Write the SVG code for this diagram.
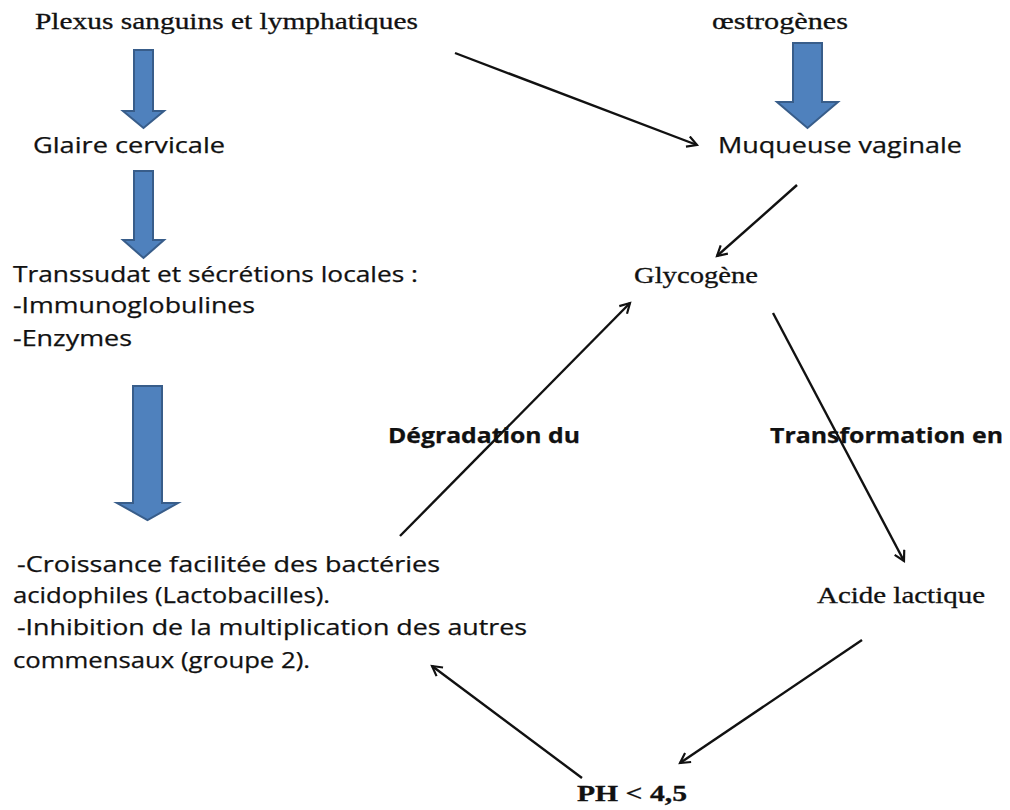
<svg xmlns="http://www.w3.org/2000/svg" width="1010" height="810" viewBox="0 0 1010 810">
<defs>
<style>
.serif{font-family:"Liberation Serif","Times New Roman",serif;font-size:24px;fill:#111;stroke:#111;stroke-width:0.3;}
.sans{font-family:"Open Sans","Liberation Sans",sans-serif;font-size:21px;fill:#111;stroke:#111;stroke-width:0.25;}
.bold{font-weight:bold;}
.block{fill:#4F81BD;stroke:#385D8A;stroke-width:2;}
.conn{stroke:#111;stroke-width:2.4;fill:none;marker-end:url(#open);}
</style>
<marker id="open" viewBox="0 0 12 12" refX="10" refY="6" markerWidth="13" markerHeight="13" markerUnits="userSpaceOnUse" orient="auto">
<path d="M1,1 L10,6 L1,11" fill="none" stroke="#111" stroke-width="2"/>
</marker>
</defs>
<rect width="1010" height="810" fill="#fff"/>

<g id="blocks">
<path class="block" d="M134,50 H153 V111 H164 L143.5,128 L123,111 H134 Z"/>
<path class="block" d="M134,171 H153 V240 H164 L143.5,258 L123,240 H134 Z"/>
<path class="block" d="M133,386 H162 V503 H178 L147.5,520 L117,503 H133 Z"/>
<path class="block" d="M793,43 H822 V102 H838 L807.5,128 L777,102 H793 Z"/>
</g>

<g id="connectors">
<line class="conn" x1="455" y1="53" x2="697" y2="145"/>
<line class="conn" x1="797" y1="185" x2="717" y2="256"/>
<line class="conn" x1="400" y1="536" x2="630" y2="303"/>
<line class="conn" x1="773" y1="313" x2="904" y2="561"/>
<line class="conn" x1="862" y1="640" x2="680" y2="763"/>
<line class="conn" x1="582" y1="778" x2="432" y2="666"/>
</g>

<g id="plexus"><text class="serif" x="35" y="29" textLength="383" lengthAdjust="spacingAndGlyphs">Plexus sanguins et lymphatiques</text></g>
<g id="oestrogenes"><text class="serif" x="712" y="29" textLength="136" lengthAdjust="spacingAndGlyphs">œstrogènes</text></g>
<g id="glaire"><text class="sans" x="33" y="153" textLength="192" lengthAdjust="spacingAndGlyphs">Glaire cervicale</text></g>
<g id="muqueuse"><text class="sans" x="718" y="153" textLength="244" lengthAdjust="spacingAndGlyphs">Muqueuse vaginale</text></g>
<g id="transsudat">
<text class="sans" x="13" y="282" textLength="405" lengthAdjust="spacingAndGlyphs">Transsudat et sécrétions locales :</text>
<text class="sans" x="13" y="313" textLength="242" lengthAdjust="spacingAndGlyphs">-Immunoglobulines</text>
<text class="sans" x="13" y="346" textLength="119" lengthAdjust="spacingAndGlyphs">-Enzymes</text>
</g>
<g id="glycogene"><text class="serif" x="634" y="283" textLength="124" lengthAdjust="spacingAndGlyphs">Glycogène</text></g>
<g id="degradation"><text class="sans bold" x="388" y="443" textLength="192" lengthAdjust="spacingAndGlyphs">Dégradation du</text></g>
<g id="transformation"><text class="sans bold" x="770" y="443" textLength="233" lengthAdjust="spacingAndGlyphs">Transformation en</text></g>
<g id="croissance">
<text class="sans" x="17" y="572" textLength="423" lengthAdjust="spacingAndGlyphs">-Croissance facilitée des bactéries</text>
<text class="sans" x="13" y="603" textLength="317" lengthAdjust="spacingAndGlyphs">acidophiles (Lactobacilles).</text>
<text class="sans" x="17" y="635" textLength="510" lengthAdjust="spacingAndGlyphs">-Inhibition de la multiplication des autres</text>
<text class="sans" x="13" y="668" textLength="297" lengthAdjust="spacingAndGlyphs">commensaux (groupe 2).</text>
</g>
<g id="acide"><text class="serif" x="817" y="603" textLength="168" lengthAdjust="spacingAndGlyphs">Acide lactique</text></g>
<g id="ph"><text class="serif bold" x="577" y="801" textLength="110" lengthAdjust="spacingAndGlyphs">PH &lt; 4,5</text></g>
</svg>
